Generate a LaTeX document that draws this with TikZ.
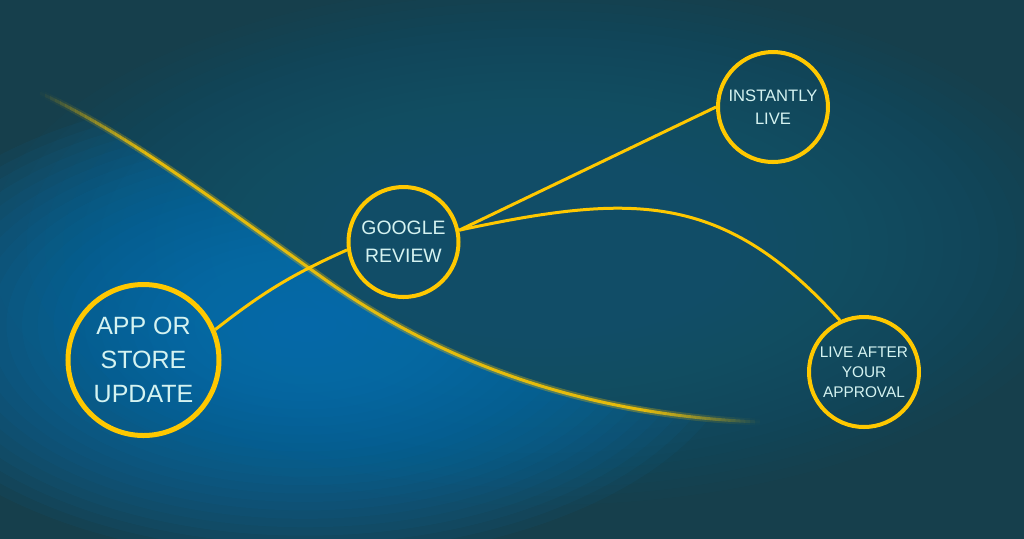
\documentclass[tikz,border=0pt]{standalone}
\usepackage{fontspec}
\setmainfont{Liberation Sans}
\definecolor{bgdark}{HTML}{163F4C}
\definecolor{glowmid}{HTML}{115B75}
\definecolor{brightblue}{HTML}{0576BC}
\definecolor{gold}{HTML}{FFC800}
\definecolor{txt}{HTML}{D5F3F1}

\newcommand\mycurve{(40,93) .. controls (130,135) and (220,205) .. (330,283) .. controls (440,360) and (580,415) .. (760,422)}

\tikzset{
  ringbig/.style={circle, draw=gold, line width=2.5pt, minimum size=75.5pt, inner sep=0pt,
    align=center, text=txt},
  ringsmall/.style={circle, draw=gold, line width=2pt, minimum size=55pt, inner sep=0pt,
    align=center, text=txt},
  conn/.style={draw=gold, line width=1.5pt},
  glowline/.style={gold, line width=3.4pt},
  coreline/.style={gold, line width=1.5pt},
}

\begin{document}
\begin{tikzpicture}[x=0.5pt, y=-0.5pt]
  \useasboundingbox (0,0) rectangle (1024,538);
  \clip (0,0) rectangle (1024,538);

  % background
  \fill[bgdark] (-5,-5) rectangle (1029,543);
  \foreach \i in {1,...,30} {
    \pgfmathsetmacro\rx{275*\i/30}
    \pgfmathsetmacro\ry{130*\i/30}
    \fill[glowmid, opacity=0.07] (540,245) ellipse [x radius=\rx pt, y radius=\ry pt];
  }
  \begin{scope}
    \clip (0,75) -- \mycurve -- (1024,436) -- (1024,545) -- (0,545) -- cycle;
    \foreach \i in {1,...,28} {
      \pgfmathsetmacro\rx{220*\i/28}
      \pgfmathsetmacro\ry{118*\i/28}
      \fill[brightblue, opacity=0.068] (305,325) ellipse [x radius=\rx pt, y radius=\ry pt];
    }
  \end{scope}

  % glowing curve, faded at both ends
  \foreach \k in {0,...,21} {
    \pgfmathsetmacro\op{(\k+0.5)/22}
    \pgfmathsetmacro\opa{0.3*\op}
    \pgfmathsetmacro\opb{0.85*\op}
    \pgfmathsetmacro\xa{40+5*\k}
    \pgfmathsetmacro\xb{45+5*\k}
    \begin{scope}
      \clip (\xa,0) rectangle (\xb,538);
      \draw[glowline, opacity=\opa] \mycurve;
      \draw[coreline, opacity=\opb] \mycurve;
    \end{scope}
  }
  \begin{scope}
    \clip (150,0) rectangle (640,538);
    \draw[glowline, opacity=0.3] \mycurve;
    \draw[coreline, opacity=0.85] \mycurve;
  \end{scope}
  \foreach \k in {0,...,23} {
    \pgfmathsetmacro\op{1-(\k+0.5)/24}
    \pgfmathsetmacro\opa{0.3*\op}
    \pgfmathsetmacro\opb{0.85*\op}
    \pgfmathsetmacro\xa{640+5*\k}
    \pgfmathsetmacro\xb{645+5*\k}
    \begin{scope}
      \clip (\xa,0) rectangle (\xb,538);
      \draw[glowline, opacity=\opa] \mycurve;
      \draw[coreline, opacity=\opb] \mycurve;
    \end{scope}
  }

  % nodes
  \node[ringbig, font=\fontsize{12.5}{17}\selectfont] (app) at (143.5,360) {APP OR\\STORE\\UPDATE};
  \node[ringsmall, font=\fontsize{9.7}{14}\selectfont] (gr) at (403.5,242) {GOOGLE\\REVIEW};
  \node[ringsmall, font=\fontsize{8.3}{11.5}\selectfont] (il) at (773,107) {INSTANTLY\\LIVE};
  \node[ringsmall, font=\fontsize{7.7}{10}\selectfont] (lv) at (864,372) {LIVE AFTER\\YOUR\\APPROVAL};

  % connectors
  \draw[conn] (app.23) to[out=38, in=204] (gr.188);
  \draw[conn] (gr.12) -- (il.180);
  \draw[conn] (gr.12) to[out=12, in=132, looseness=1.15] (lv.115);
\end{tikzpicture}
\end{document}
